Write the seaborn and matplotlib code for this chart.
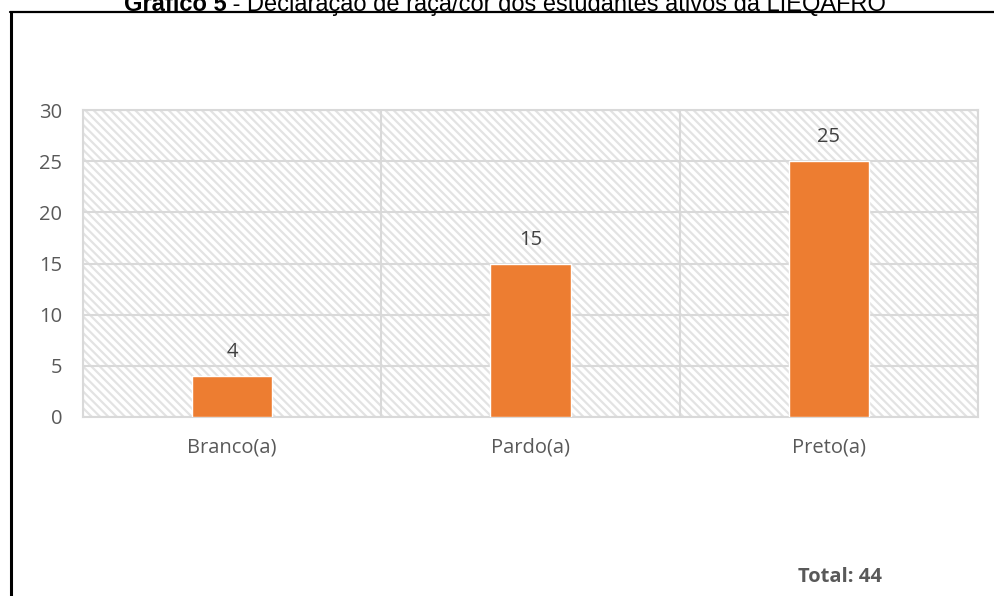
import matplotlib
matplotlib.use("Agg")
import matplotlib.pyplot as plt
import seaborn as sns
import pandas as pd
from matplotlib.patches import Rectangle
from matplotlib.lines import Line2D

categories = ["Branco(a)", "Pardo(a)", "Preto(a)"]
values = [4, 15, 25]
yticks = [0, 5, 10, 15, 20, 25, 30]
total_label = "Total: 44"
title_bold = "Gráfico 5"
title_rest = " - Declaração de raça/cor dos estudantes ativos da LIEQAFRO"

sns.set_style("white")
plt.rcParams["font.family"] = ["Open Sans", "DejaVu Sans"]
plt.rcParams["hatch.linewidth"] = 1.6

df = pd.DataFrame({"cat": categories, "val": values})

fig = plt.figure(figsize=(9.94, 5.96), dpi=100)
ax = fig.add_axes([83/994, 1-417/596, (978-83)/994, (417-110)/596])

# hatched background
ax.add_patch(Rectangle((0, 0), 1, 1, transform=ax.transAxes, facecolor="white",
                       edgecolor="#e3e3e3", hatch="\\" * 4, lw=0, zorder=0))

sns.barplot(data=df, x="cat", y="val", color="#ED7D31", width=0.27,
            saturation=1, ax=ax, zorder=3)

ax.set_xlim(-0.5, 2.5)
ax.set_ylim(0, 30)
ax.set_yticks(yticks)
ax.set_xticks([-0.5, 0.5, 1.5, 2.5], minor=True)
ax.set_axisbelow(True)
ax.grid(axis="y", which="major", color="#d9d9d9", lw=1.5)
ax.grid(axis="x", which="minor", color="#d9d9d9", lw=1.5)
ax.grid(axis="x", which="major", visible=False)
for s in ax.spines.values():
    s.set_color("#d9d9d9")
    s.set_linewidth(1.5)
ax.tick_params(axis="both", which="both", length=0)
ax.tick_params(axis="y", pad=15, labelsize=14.5, labelcolor="#595959")
ax.tick_params(axis="x", pad=15, labelsize=14.5, labelcolor="#595959")
ax.set_xlabel("")
ax.set_ylabel("")

for c in ax.containers:
    ax.bar_label(c, labels=[str(v) for v in values], padding=10,
                 fontsize=14.5, color="#404040")

# frame
fig.add_artist(Line2D([10/994, 1.0], [1-12/596, 1-12/596], color="black", lw=1.6,
                      transform=fig.transFigure))
fig.add_artist(Line2D([11/994, 11/994], [0, 1-12/596], color="black", lw=2.2,
                      transform=fig.transFigure))

# title (split bold/regular)
fig.canvas.draw()
r = fig.canvas.get_renderer()
tb = fig.text(0, 1-11/596, title_bold, fontsize=17, fontweight="bold",
              family="Liberation Sans", va="baseline", ha="left", color="black")
tr = fig.text(0, 1-11/596, title_rest, fontsize=17, family="Liberation Sans",
              va="baseline", ha="left", color="black")
wb = tb.get_window_extent(r).width
wr = tr.get_window_extent(r).width
x0 = 505 - (wb + wr) / 2
tb.set_x(x0 / 994)
tr.set_x((x0 + wb) / 994)

fig.text(840/994, 1-577/596, total_label, fontsize=14.5, fontweight="bold",
         color="#595959", ha="center", va="center")

fig.savefig("out.png", dpi=100)
